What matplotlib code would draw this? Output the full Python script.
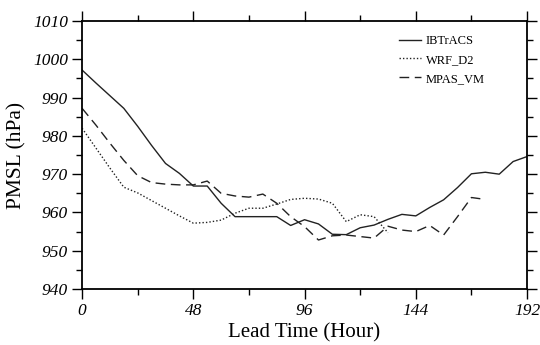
import numpy as np
import matplotlib.pyplot as plt
from matplotlib.ticker import MultipleLocator

hours = np.arange(0, 193, 6)

ibtracs = [997.2, 993.8, 990.5, 987.2, 982.5, 977.5, 972.8, 970.2, 966.9, 966.9,
           962.4, 958.9, 958.9, 958.9, 958.9, 956.6, 958.1, 957.0, 954.3, 954.2,
           956.0, 956.7, 958.2, 959.5, 959.1, 961.3, 963.3, 966.5, 970.1, 970.5,
           970.0, 973.3, 974.6]

wrf_hours = np.arange(0, 133, 6)
wrf_d2 = [982.0, 976.8, 971.6, 966.6, 965.1, 963.1, 961.1, 959.1, 957.2, 957.4,
          958.0, 959.8, 961.1, 961.1, 962.2, 963.4, 963.7, 963.5, 962.4, 957.6,
          959.4, 958.9, 954.7]

mpas_hours = np.arange(0, 175, 6)
mpas_vm = [987.2, 982.8, 978.1, 973.6, 969.6, 967.8, 967.4, 967.2, 967.2, 968.2,
           965.0, 964.3, 964.0, 964.8, 962.4, 958.9, 956.3, 952.8, 953.9, 954.1,
           953.7, 953.3, 956.4, 955.4, 955.0, 956.6, 954.1, 958.9, 963.9, 963.4]

plt.rcParams['font.family'] = ['Liberation Serif', 'DejaVu Serif']

fig = plt.figure(figsize=(5.4, 3.45), dpi=100)
ax = fig.add_axes([0.152, 0.1623, 0.824, 0.7767])

col = '#222222'
ax.plot(hours, ibtracs, color=col, lw=1.0, label='IBTrACS')
ax.plot(wrf_hours, wrf_d2, color=col, lw=1.0, linestyle=(0, (1, 1.5)), label='WRF_D2')
ax.plot(mpas_hours, mpas_vm, color=col, lw=1.0, linestyle=(0, (7, 4)), label='MPAS_VM')

ax.set_xlim(0, 192)
ax.set_ylim(940, 1010)
ax.xaxis.set_major_locator(MultipleLocator(48))
ax.xaxis.set_minor_locator(MultipleLocator(24))
ax.yaxis.set_major_locator(MultipleLocator(10))
ax.yaxis.set_minor_locator(MultipleLocator(5))
ax.tick_params(which='both', direction='out', top=True, right=True, width=1.0)
ax.tick_params(which='major', length=7, labelsize=12.5, pad=3)
ax.tick_params(which='minor', length=4)
for lab in ax.get_xticklabels() + ax.get_yticklabels():
    lab.set_fontstyle('italic')
for sp in ax.spines.values():
    sp.set_linewidth(1.3)

ax.set_xlabel('Lead Time (Hour)', fontsize=15, labelpad=3)
ax.set_ylabel('PMSL (hPa)', fontsize=15.5, labelpad=5)

ax.legend(loc='upper right', frameon=False, fontsize=9, handlelength=1.7,
          handletextpad=0.4, labelspacing=0.55, bbox_to_anchor=(0.93, 0.99))

fig.savefig('out.png', dpi=100)
